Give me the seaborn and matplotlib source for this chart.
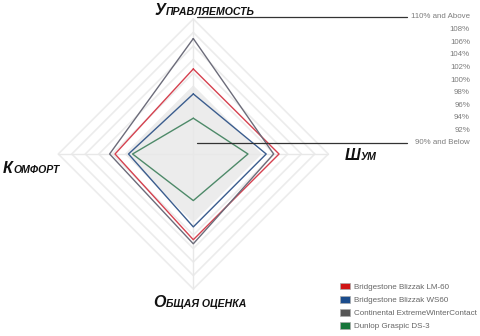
import numpy as np
import pandas as pd
import matplotlib
matplotlib.use("Agg")
import matplotlib.pyplot as plt
import seaborn as sns
from matplotlib.patches import Patch

# ---------------- data ----------------
categories = ["Управляемость", "Шум", "Общая оценка", "Комфорт"]
series_names = ["Bridgestone Blizzak LM-60", "Bridgestone Blizzak WS60",
                "Continental ExtremeWinterContact", "Dunlop Graspic DS-3"]
lm60 = [102.6, 102.7, 102.7, 101.6]
ws60 = [98.9, 100.8, 100.8, 99.6]
conti = [107.1, 101.9, 103.3, 102.4]
dunlop = [95.3, 98.1, 96.9, 99.0]
scale_levels = [110, 108, 106, 104, 102, 100, 98, 96, 94, 92, 90]
scale_labels = ["110% and Above", "108%", "106%", "104%", "102%", "100%",
                "98%", "96%", "94%", "92%", "90% and Below"]
baseline_level = 100

line_colors = ["#d5414f", "#3b5d8e", "#6c6c7a", "#4e8a69"]
legend_colors = ["#d01414", "#1b4c8c", "#555555", "#17753a"]

# ---------------- layout ----------------
sns.set_theme(style="white")
plt.rcParams["font.family"] = ["Liberation Sans", "DejaVu Sans"]

fig = plt.figure(figsize=(4.8, 3.36), dpi=100)
ax = fig.add_axes([0, 0, 1, 1])

cx, cy, R = 193.3, 154.0, 135.0
vmin, vmax = 90.0, 110.0
angles = np.deg2rad([0, 90, 180, 270])  # clockwise from top


def to_xy(vals):
    r = (np.asarray(vals, float) - vmin) / (vmax - vmin) * R
    return cx + r * np.sin(angles), cy - r * np.cos(angles)


def closed(a):
    a = list(a)
    return a + [a[0]]


# baseline (100%) shaded area
bx, by = to_xy([baseline_level] * 4)
ax.fill(bx, by, color="#ececec", zorder=0, lw=0)

# grid rings
for lv in scale_levels[:-1]:
    gx, gy = to_xy([lv] * 4)
    ax.plot(closed(gx), closed(gy), color="#ececec", lw=1.2, zorder=1)
# spokes
ox, oy = to_xy([vmax] * 4)
for x1, y1 in zip(ox, oy):
    ax.plot([cx, x1], [cy, y1], color="#e8e8e8", lw=1.0, zorder=1)

# data lines
rows = []
for name, vals in zip(series_names, [lm60, ws60, conti, dunlop]):
    xs, ys = to_xy(vals)
    for i, (x, y) in enumerate(zip(closed(xs), closed(ys))):
        rows.append({"series": name, "order": i, "x": x, "y": y})
df = pd.DataFrame(rows)
sns.lineplot(data=df, x="x", y="y", hue="series", hue_order=series_names,
             palette=line_colors, sort=False, estimator=None, lw=1.0,
             legend=False, ax=ax, zorder=3)
ax.set_xlim(0, 480)
ax.set_ylim(336, 0)
ax.axis("off")

# scale labels on the right
top_y, bot_y = 17.0, 143.0
ys_lab = np.linspace(top_y, bot_y, len(scale_labels))
for lab, y in zip(scale_labels, ys_lab):
    ax.text(470, y, lab, ha="right", va="center", fontsize=5.7, color="#7d7d7d")
ax.plot([197, 407], [top_y, top_y], color="#333333", lw=0.9, zorder=4)
ax.plot([197, 407], [bot_y, bot_y], color="#333333", lw=0.9, zorder=4)


# axis titles (small caps style)
def smallcaps(x, y, word):
    t1 = ax.text(x, y, word[0], fontsize=11.5, fontweight="bold", style="italic",
                 color="#111111", ha="left", va="baseline")
    ax.annotate(word[1:].upper(), xy=(1, 0), xycoords=t1, fontsize=7.6,
                fontweight="bold", style="italic", color="#111111",
                ha="left", va="bottom", xytext=(0.3, 0.6),
                textcoords="offset points")


smallcaps(155, 15, categories[0])
smallcaps(345, 159.5, categories[1])
smallcaps(153, 307, categories[2])
smallcaps(3, 173, categories[3])

# legend
handles = [Patch(facecolor=c, edgecolor="#aaaaaa", lw=0.5) for c in legend_colors]
ax.legend(handles, series_names, loc="lower left",
          bbox_to_anchor=(340 / 480, 1 - 330 / 336),
          frameon=False, fontsize=5.75, handlelength=1.25, handleheight=0.9,
          handletextpad=0.5, labelspacing=0.62, labelcolor="#666666",
          borderaxespad=0, borderpad=0)

fig.savefig("out.png", dpi=100, facecolor="white")
